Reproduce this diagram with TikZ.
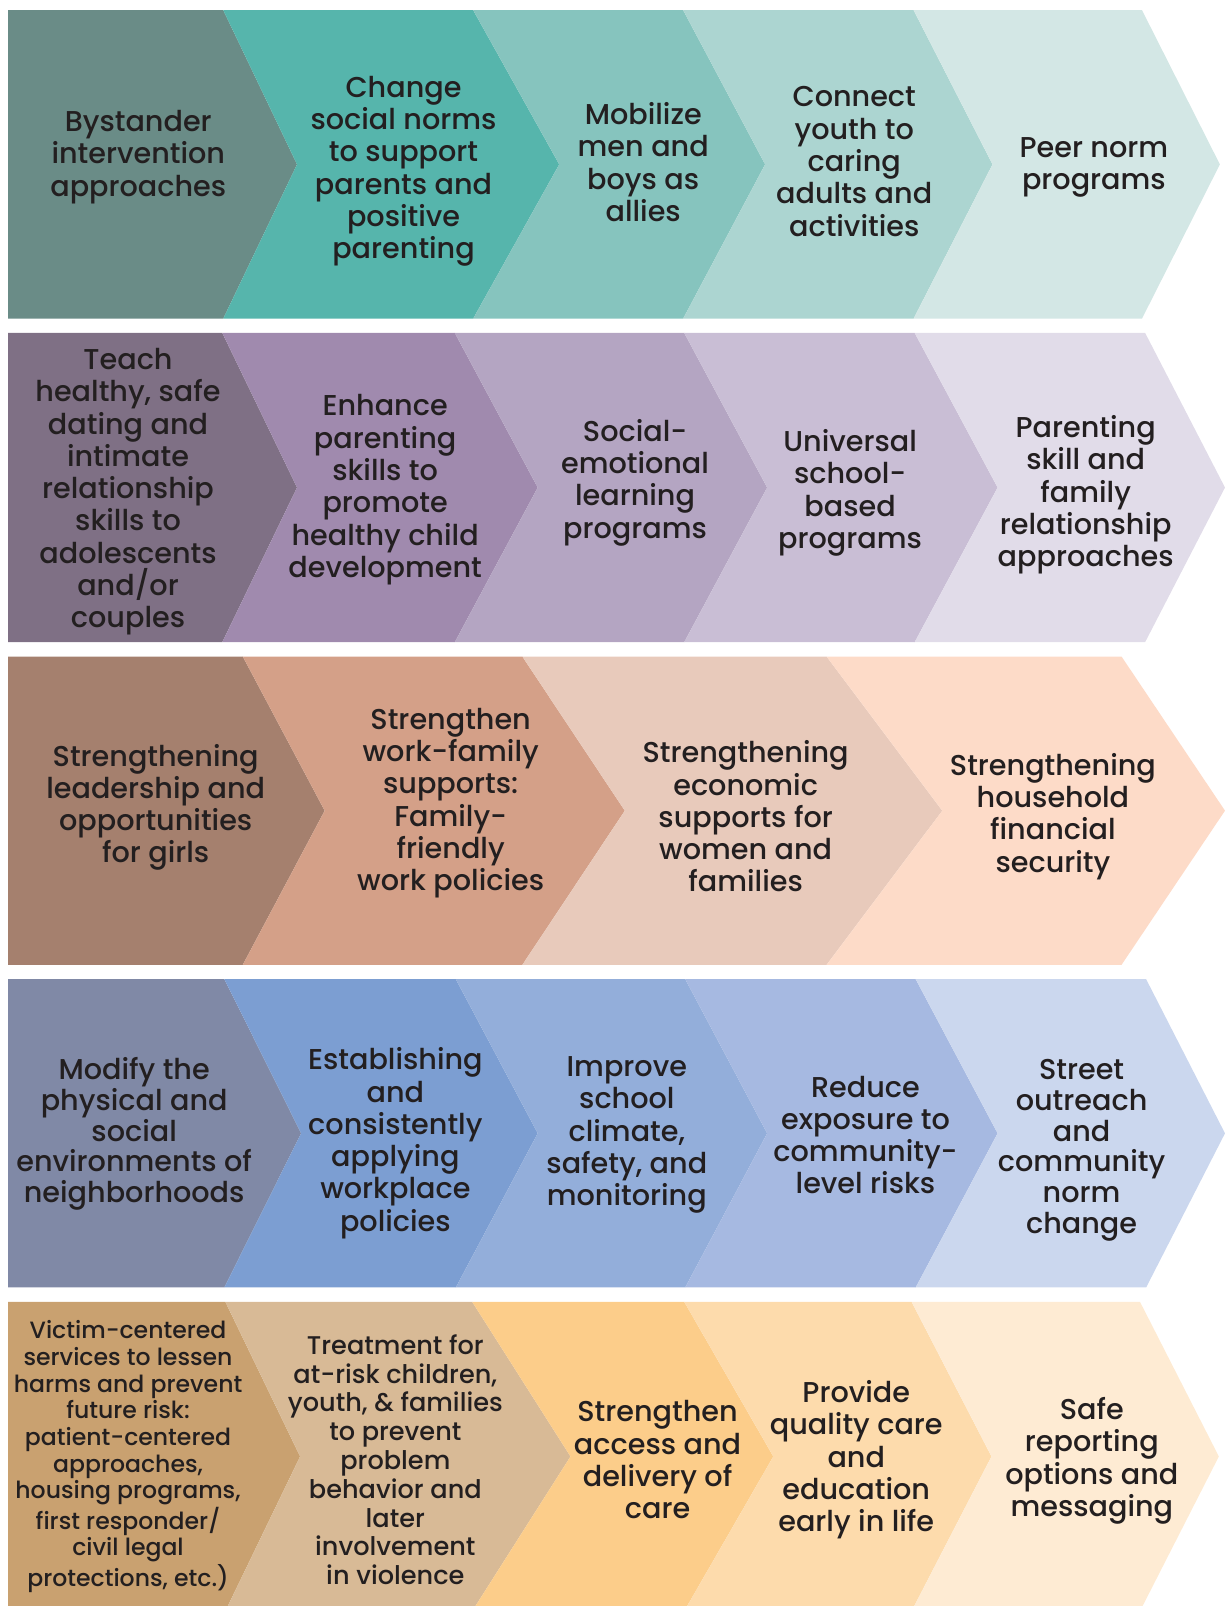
\documentclass[tikz,border=0pt]{standalone}
\usepackage{fontspec}
\setmainfont{Poppins Medium}
\definecolor{txt}{HTML}{231F20}
\definecolor{a1}{HTML}{6A8C87}\definecolor{a2}{HTML}{56B5AC}\definecolor{a3}{HTML}{86C4BE}\definecolor{a4}{HTML}{ACD5D1}\definecolor{a5}{HTML}{D3E7E5}
\definecolor{b1}{HTML}{7F7085}\definecolor{b2}{HTML}{A08AAE}\definecolor{b3}{HTML}{B4A5C2}\definecolor{b4}{HTML}{C9BED5}\definecolor{b5}{HTML}{E1DCE9}
\definecolor{c1}{HTML}{A5806E}\definecolor{c2}{HTML}{D4A088}\definecolor{c3}{HTML}{E8CABB}\definecolor{c4}{HTML}{FDDBC8}
\definecolor{d1}{HTML}{8089A6}\definecolor{d2}{HTML}{7C9ED2}\definecolor{d3}{HTML}{93AEDA}\definecolor{d4}{HTML}{A6B9E1}\definecolor{d5}{HTML}{CBD7EE}
\definecolor{e1}{HTML}{C9A170}\definecolor{e2}{HTML}{D8BA96}\definecolor{e3}{HTML}{FCCD8A}\definecolor{e4}{HTML}{FDDBAC}\definecolor{e5}{HTML}{FEEBD3}
\newcommand\chev[8]{\fill[#1] (#2,#6) -- (#4,#6) -- (#5,#7) -- (#4,#8) -- (#2,#8) -- (#3,#7) -- cycle;}
\tikzset{lbl/.style={align=center, text=txt, inner sep=0pt, yshift=-1.6pt, font=\fontsize{14}{15.75}\selectfont}}
\begin{document}
\begin{tikzpicture}[x=0.5pt,y=-0.5pt]
\useasboundingbox (0,0) rectangle (1196,1568);
% Row 1
\chev{a1}{8}{8}{218}{290}{10}{160.5}{311}
\chev{a2}{218}{290}{462}{546}{10}{160.5}{311}
\chev{a3}{462}{546}{667}{747}{10}{160.5}{311}
\chev{a4}{667}{747}{892}{969}{10}{160.5}{311}
\chev{a5}{892}{969}{1115}{1191}{10}{160.5}{311}
% Row 2
\chev{b1}{8}{8}{217}{290}{325}{476}{627}
\chev{b2}{217}{290}{444}{525}{325}{476}{627}
\chev{b3}{444}{525}{668}{749}{325}{476}{627}
\chev{b4}{668}{749}{893}{974}{325}{476}{627}
\chev{b5}{893}{974}{1118}{1196}{325}{476}{627}
% Row 3
\chev{c1}{8}{8}{237}{317}{641}{791.5}{942}
\chev{c2}{237}{317}{510}{610}{641}{791.5}{942}
\chev{c3}{510}{610}{807}{920}{641}{791.5}{942}
\chev{c4}{807}{920}{1095}{1196}{641}{791.5}{942}
% Row 4
\chev{d1}{8}{8}{219}{294}{956}{1106.5}{1257}
\chev{d2}{219}{294}{445}{525}{956}{1106.5}{1257}
\chev{d3}{445}{525}{669}{749}{956}{1106.5}{1257}
\chev{d4}{669}{749}{894}{974}{956}{1106.5}{1257}
\chev{d5}{894}{974}{1119}{1196}{956}{1106.5}{1257}
% Row 5
\chev{e1}{8}{8}{220}{293}{1271}{1422}{1573}
\chev{e2}{220}{293}{461}{557}{1271}{1422}{1573}
\chev{e3}{461}{557}{668}{755}{1271}{1422}{1573}
\chev{e4}{668}{755}{890}{968}{1271}{1422}{1573}
\chev{e5}{890}{968}{1113}{1190}{1271}{1422}{1573}
% Texts row 1
\node[lbl] (r1c1) at (135,150) {Bystander\\intervention\\approaches};
\node[lbl] (r1c2) at (394,164) {Change\\social norms\\to support\\parents and\\positive\\parenting};
\node[lbl] (r1c3) at (628,155) {Mobilize\\men and\\boys as\\allies};
\node[lbl] (r1c4) at (834,154.5) {Connect\\youth to\\caring\\adults and\\activities};
\node[lbl] (r1c5) at (1068,160) {Peer norm\\programs};
% Row 2
\node[lbl] (r2c1) at (125,477) {Teach\\healthy, safe\\dating and\\intimate\\relationship\\skills to\\adolescents\\and/or\\couples};
\node[lbl] (r2c2) at (376,475) {Enhance\\parenting\\skills to\\promote\\healthy child\\development};
\node[lbl] (r2c3) at (620,468) {Social-\\emotional\\learning\\programs};
\node[lbl] (r2c4) at (830,478) {Universal\\school-\\based\\programs};
\node[lbl] (r2c5) at (1060,480) {Parenting\\skill and\\family\\relationship\\approaches};
% Row 3
\node[lbl] (r3c1) at (152,785) {Strengthening\\leadership and\\opportunities\\for girls};
\node[lbl] (r3c2) at (440,781) {Strengthen\\work-family\\supports:\\Family-\\friendly\\work policies};
\node[lbl] (r3c3) at (728,794) {Strengthening\\economic\\supports for\\women and\\families};
\node[lbl] (r3c4) at (1028,794) {Strengthening\\household\\financial\\security};
% Row 4
\node[lbl, font=\fontsize{14}{15}\selectfont] (r4c1) at (131,1104) {Modify the\\physical and\\social\\environments of\\neighborhoods};
\node[lbl] (r4c2) at (386,1113) {Establishing\\and\\consistently\\applying\\workplace\\policies};
\node[lbl] (r4c3) at (612,1105) {Improve\\school\\climate,\\safety, and\\monitoring};
\node[lbl] (r4c4) at (845,1105) {Reduce\\exposure to\\community-\\level risks};
\node[lbl, font=\fontsize{14}{15}\selectfont] (r4c5) at (1056,1120) {Street\\outreach\\and\\community\\norm\\change};
% Row 5
\node[lbl, font=\fontsize{11.5}{13}\selectfont] (r5c1) at (125,1419) {Victim-centered\\services to lessen\\harms and prevent\\future risk:\\patient-centered\\approaches,\\housing programs,\\first responder/\\civil legal\\protections, etc.)};
\node[lbl, font=\fontsize{12.5}{14.05}\selectfont] (r5c2) at (386,1422) {Treatment for\\at-risk children,\\youth, \& families\\to prevent\\problem\\behavior and\\later\\involvement\\in violence};
\node[lbl] (r5c3) at (642,1422) {Strengthen\\access and\\delivery of\\care};
\node[lbl] (r5c4) at (836,1422) {Provide\\quality care\\and\\education\\early in life};
\node[lbl] (r5c5) at (1066,1423) {Safe\\reporting\\options and\\messaging};
\end{tikzpicture}
\end{document}
